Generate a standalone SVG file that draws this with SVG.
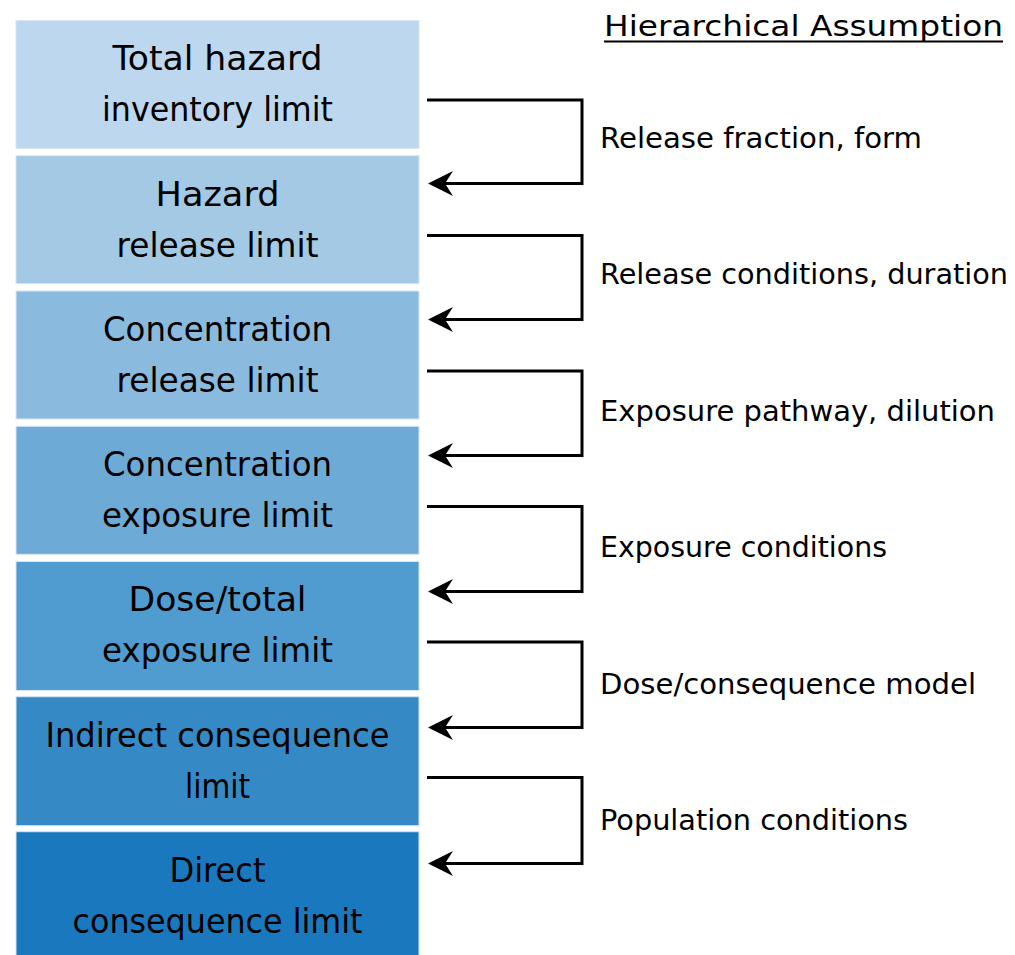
<svg xmlns="http://www.w3.org/2000/svg" width="1015" height="955" viewBox="0 0 1015 955">
  <style>
    .box { stroke: #d6e6f4; stroke-width: 1; }
    .t { font-family: "DejaVu Sans", sans-serif; font-size: 34px; fill: #000; text-anchor: middle; }
    .lbl { font-family: "DejaVu Sans", sans-serif; font-size: 29px; fill: #000; }
    .link { fill: none; stroke: #000; stroke-width: 3; stroke-linejoin: miter; }
    .head { fill: #000; }
  </style>
  <rect width="1015" height="955" fill="#ffffff"/>

  <!-- title -->
  <g id="title">
    <text class="lbl" x="604" y="36" textLength="399" lengthAdjust="spacingAndGlyphs" font-size="32">Hierarchical Assumption</text>
    <rect x="604" y="40.5" width="399" height="2" fill="#000"/>
  </g>

  <!-- stacked limit levels -->
  <g id="n1">
    <rect class="box" x="16" y="20.5" width="403" height="128" fill="#bdd7ee"/>
    <text class="t" x="217.5" y="70" textLength="210" lengthAdjust="spacingAndGlyphs">Total hazard</text>
    <text class="t" x="217.5" y="121" textLength="231" lengthAdjust="spacingAndGlyphs">inventory limit</text>
  </g>
  <g id="n2">
    <rect class="box" x="16" y="155.7" width="403" height="128" fill="#a3c9e4"/>
    <text class="t" x="217.5" y="205.5" textLength="124" lengthAdjust="spacingAndGlyphs">Hazard</text>
    <text class="t" x="217.5" y="256.5" textLength="202" lengthAdjust="spacingAndGlyphs">release limit</text>
  </g>
  <g id="n3">
    <rect class="box" x="16" y="291" width="403" height="128" fill="#8abadd"/>
    <text class="t" x="217.5" y="340.5" textLength="229" lengthAdjust="spacingAndGlyphs">Concentration</text>
    <text class="t" x="217.5" y="391.5" textLength="202" lengthAdjust="spacingAndGlyphs">release limit</text>
  </g>
  <g id="n4">
    <rect class="box" x="16" y="426.3" width="403" height="128" fill="#6eaad6"/>
    <text class="t" x="217.5" y="476" textLength="229" lengthAdjust="spacingAndGlyphs">Concentration</text>
    <text class="t" x="217.5" y="527" textLength="231" lengthAdjust="spacingAndGlyphs">exposure limit</text>
  </g>
  <g id="n5">
    <rect class="box" x="16" y="561.5" width="403" height="129" fill="#509bcf"/>
    <text class="t" x="217.5" y="611" textLength="178" lengthAdjust="spacingAndGlyphs">Dose/total</text>
    <text class="t" x="217.5" y="662" textLength="231" lengthAdjust="spacingAndGlyphs">exposure limit</text>
  </g>
  <g id="n6">
    <rect class="box" x="16" y="696.7" width="403" height="129" fill="#358ac6"/>
    <text class="t" x="217.5" y="746.5" textLength="344" lengthAdjust="spacingAndGlyphs">Indirect consequence</text>
    <text class="t" x="217.5" y="797.5" textLength="65" lengthAdjust="spacingAndGlyphs">limit</text>
  </g>
  <g id="n7">
    <rect class="box" x="16" y="831.7" width="403" height="130" fill="#1a79be"/>
    <text class="t" x="217.5" y="881.5" textLength="96" lengthAdjust="spacingAndGlyphs">Direct</text>
    <text class="t" x="217.5" y="932.5" textLength="290" lengthAdjust="spacingAndGlyphs">consequence limit</text>
  </g>

  <!-- connectors between levels -->
  <g id="connectors">
    <path class="link" d="M427 100 H582 V183.5 H440"/>
    <polygon class="head" points="428,183.5 453,171 445,183.5 453,196"/>
    <path class="link" d="M427 235.5 H582 V319.5 H440"/>
    <polygon class="head" points="428,319.5 453,307 445,319.5 453,332"/>
    <path class="link" d="M427 371 H582 V455.5 H440"/>
    <polygon class="head" points="428,455.5 453,443 445,455.5 453,468"/>
    <path class="link" d="M427 506.5 H582 V591.5 H440"/>
    <polygon class="head" points="428,591.5 453,579 445,591.5 453,604"/>
    <path class="link" d="M427 642 H582 V727.5 H440"/>
    <polygon class="head" points="428,727.5 453,715 445,727.5 453,740"/>
    <path class="link" d="M427 777.5 H582 V863.5 H440"/>
    <polygon class="head" points="428,863.5 453,851 445,863.5 453,876"/>
  </g>

  <!-- assumption labels -->
  <g id="labels">
    <text class="lbl" x="600" y="148" textLength="322" lengthAdjust="spacingAndGlyphs">Release fraction, form</text>
    <text class="lbl" x="600" y="284" textLength="408" lengthAdjust="spacingAndGlyphs">Release conditions, duration</text>
    <text class="lbl" x="600" y="420.5" textLength="395" lengthAdjust="spacingAndGlyphs">Exposure pathway, dilution</text>
    <text class="lbl" x="600" y="557" textLength="287" lengthAdjust="spacingAndGlyphs">Exposure conditions</text>
    <text class="lbl" x="600" y="694" textLength="376" lengthAdjust="spacingAndGlyphs">Dose/consequence model</text>
    <text class="lbl" x="600" y="830" textLength="308" lengthAdjust="spacingAndGlyphs">Population conditions</text>
  </g>
</svg>
